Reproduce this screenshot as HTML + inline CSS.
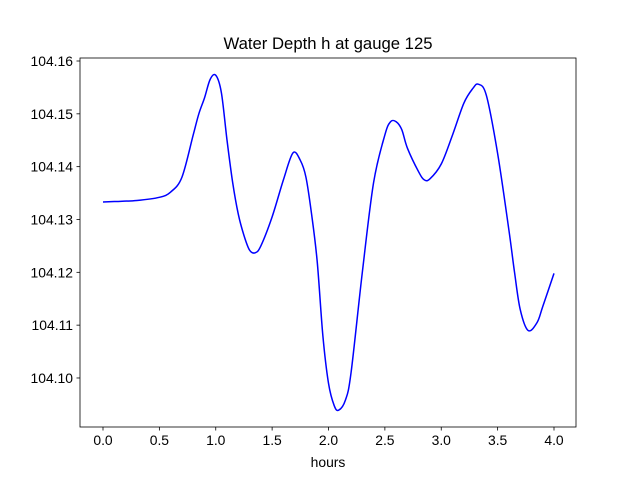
<!DOCTYPE html>
<html><head><meta charset="utf-8"><style>body{margin:0;background:#fff}svg{display:block;font-family:"Liberation Sans",sans-serif}</style></head>
<body>
<svg id="c" width="640" height="480"></svg>
<script>
const times=[0,0.1,0.3,0.5,0.6,0.7,0.8,0.85,0.9,0.95,1.0,1.05,1.1,1.15,1.2,1.25,1.3,1.35,1.4,1.5,1.6,1.685,1.75,1.8,1.85,1.9,1.95,2.0,2.05,2.09,2.15,2.2,2.3,2.4,2.5,2.55,2.6,2.65,2.7,2.8,2.85,2.9,3.0,3.1,3.2,3.28,3.33,3.4,3.5,3.6,3.65,3.7,3.77,3.85,3.9,4.0];
const depth=[104.1333,104.1334,104.1336,104.1342,104.1352,104.138,104.146,104.150,104.153,104.1565,104.1573,104.154,104.145,104.137,104.131,104.127,104.1242,104.1237,104.125,104.1305,104.1375,104.1426,104.1412,104.138,104.131,104.122,104.108,104.099,104.0948,104.0939,104.0958,104.101,104.120,104.137,104.146,104.1485,104.1485,104.147,104.1435,104.139,104.1375,104.1377,104.1405,104.146,104.152,104.1548,104.1556,104.1535,104.1425,104.128,104.12,104.113,104.109,104.1105,104.1135,104.1198];
const xTicks=[0,0.5,1,1.5,2,2.5,3,3.5,4];
const xTickLabels=["0.0","0.5","1.0","1.5","2.0","2.5","3.0","3.5","4.0"];
const yTicks=[104.10,104.11,104.12,104.13,104.14,104.15,104.16];
const yTickLabels=["104.10","104.11","104.12","104.13","104.14","104.15","104.16"];
const svg=document.getElementById('c');const NS="http://www.w3.org/2000/svg";
const L=80,R=576,T=58,B=427;
const xs=v=>103+v*112.75;
const ys=v=>61+(104.16-v)*5283;
function mk(t,a,p){const e=document.createElementNS(NS,t);for(const k in a)e.setAttribute(k,a[k]);(p||svg).appendChild(e);return e;}
const title=mk('text',{x:328,y:49,'text-anchor':'middle','font-size':16.7});title.textContent="Water Depth h at gauge 125";


const pts=times.map((t,i)=>[xs(t),ys(depth[i])]);
let d="M"+pts[0][0]+","+pts[0][1];
for(let i=0;i<pts.length-1;i++){const p0=pts[Math.max(0,i-1)],p1=pts[i],p2=pts[i+1],p3=pts[Math.min(pts.length-1,i+2)];
d+=" C"+(p1[0]+(p2[0]-p0[0])/6)+","+(p1[1]+(p2[1]-p0[1])/6)+" "+(p2[0]-(p3[0]-p1[0])/6)+","+(p2[1]-(p3[1]-p1[1])/6)+" "+p2[0]+","+p2[1];}
const line=mk('path',{d:d,fill:'none',stroke:'#0000ff','stroke-width':1.5});


const frame=mk('rect',{x:L,y:T,width:R-L,height:B-T,fill:'none',stroke:'#000','stroke-width':0.8});


xTicks.forEach((v,i)=>{const x=xs(v);mk('line',{x1:x,x2:x,y1:B,y2:B+3.5,stroke:'#000','stroke-width':0.8});
const t=mk('text',{x:x,y:B+18,'text-anchor':'middle','font-size':13.9});t.textContent=xTickLabels[i];

});
yTicks.forEach((v,i)=>{const y=ys(v);mk('line',{x1:L-3.5,x2:L,y1:y,y2:y,stroke:'#000','stroke-width':0.8});
const t=mk('text',{x:L-7,y:y+5,'text-anchor':'end','font-size':13.9});t.textContent=yTickLabels[i];

});
const xl=mk('text',{x:328,y:467,'text-anchor':'middle','font-size':13.9});xl.textContent="hours";


</script>
</body></html>
